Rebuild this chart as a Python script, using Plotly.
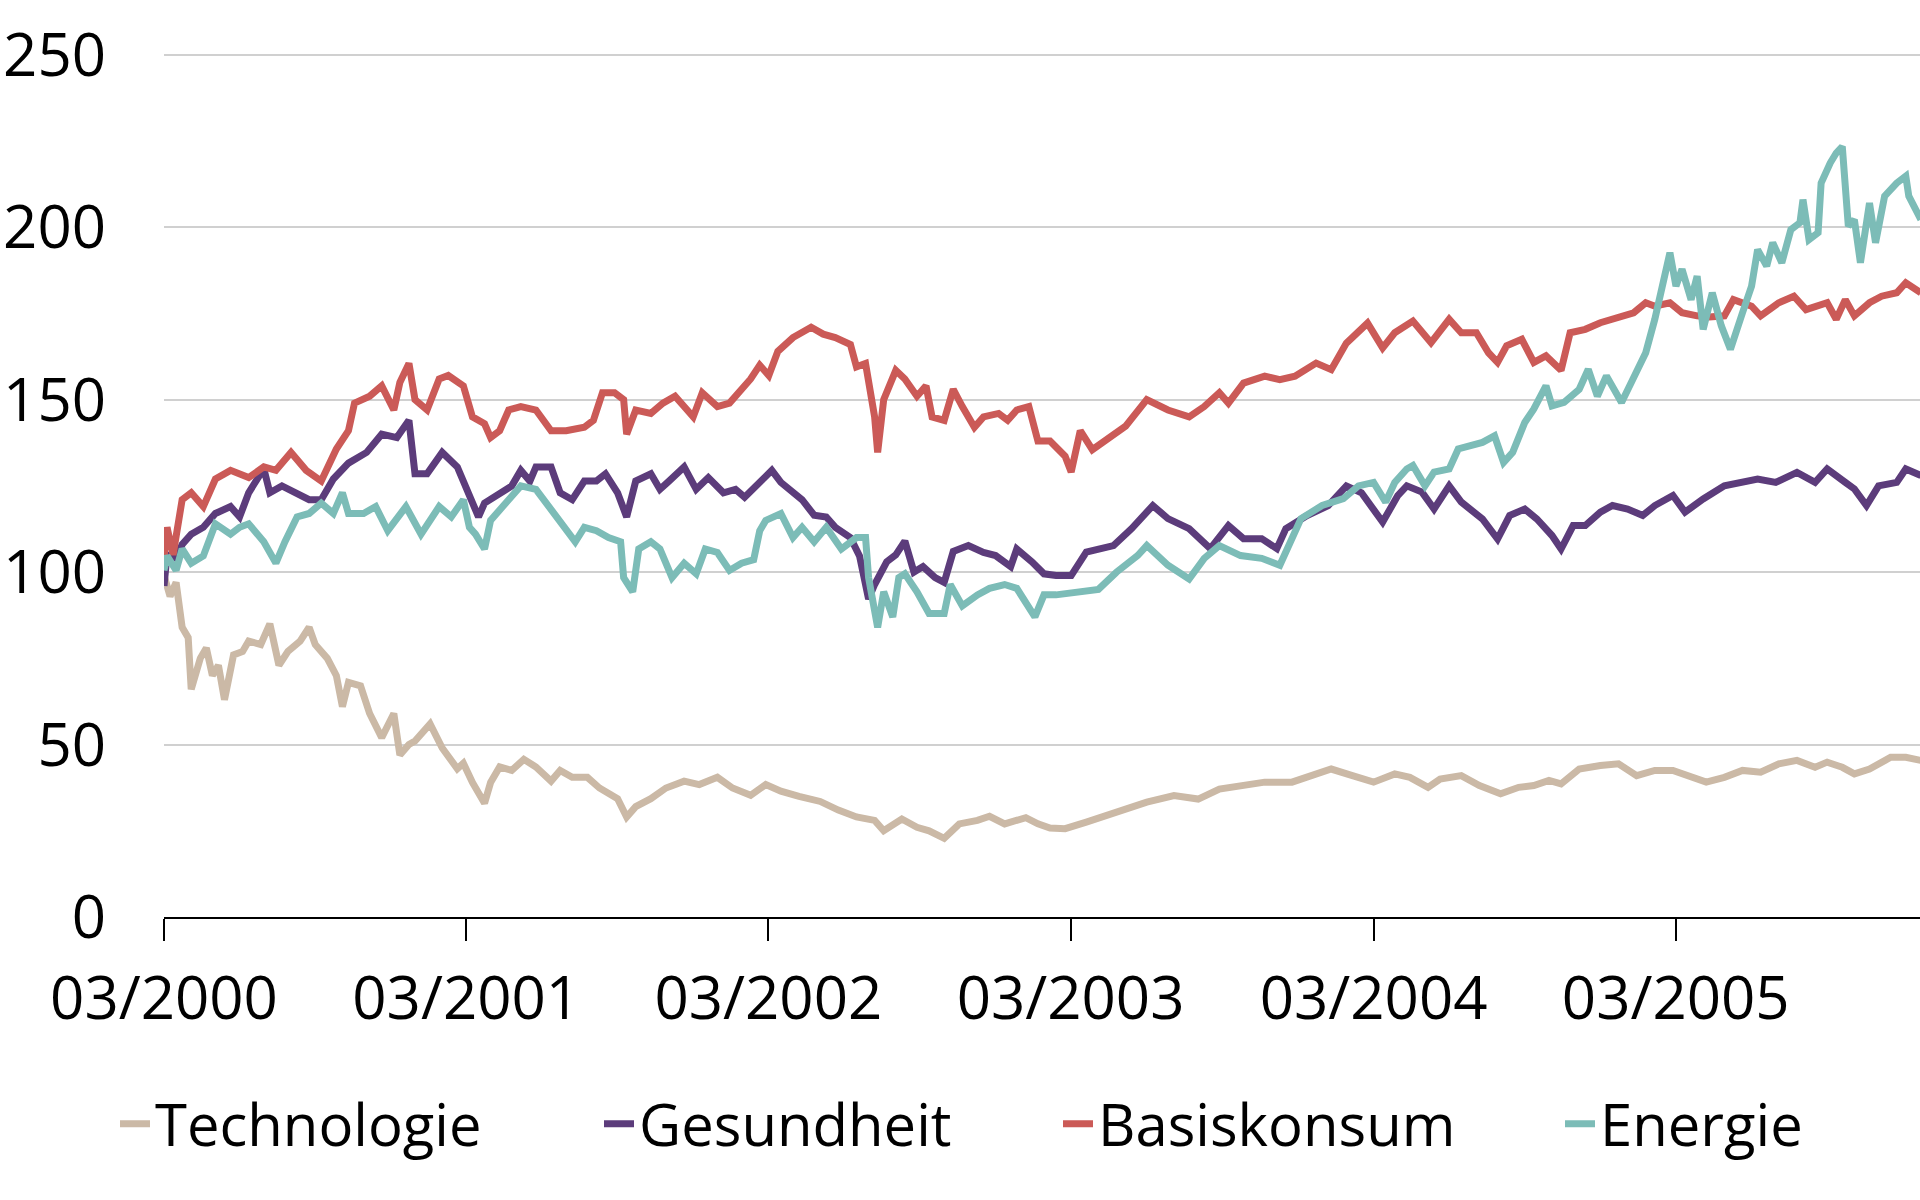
import pandas as pd
import plotly.graph_objects as go

# time in years since 03/2000, index values (03/2000 = 100)
tech_t = [0.00, 0.02, 0.04, 0.06, 0.08, 0.09, 0.12, 0.14, 0.16, 0.18, 0.20, 0.23, 0.26, 0.28,
          0.32, 0.35, 0.38, 0.41, 0.45, 0.48, 0.50, 0.54, 0.57, 0.59, 0.61, 0.65, 0.68, 0.72,
          0.76, 0.78, 0.81, 0.83, 0.88, 0.92, 0.97, 0.99, 1.02, 1.06, 1.08, 1.11, 1.15, 1.19,
          1.23, 1.28, 1.31, 1.35, 1.40, 1.44, 1.50, 1.53, 1.56, 1.61, 1.66, 1.72, 1.77, 1.83,
          1.88, 1.94, 1.99, 2.04, 2.10, 2.17, 2.23, 2.29, 2.35, 2.38, 2.44, 2.49, 2.53, 2.58,
          2.63, 2.69, 2.73, 2.78, 2.85, 2.89, 2.93, 2.98, 3.05, 3.15, 3.25, 3.34, 3.42, 3.49,
          3.56, 3.64, 3.73, 3.79, 3.86, 3.93, 4.00, 4.07, 4.12, 4.18, 4.22, 4.29, 4.35, 4.42,
          4.48, 4.53, 4.58, 4.62, 4.68, 4.75, 4.81, 4.87, 4.93, 4.99, 5.05, 5.10, 5.16, 5.22,
          5.28, 5.34, 5.40, 5.46, 5.50, 5.55, 5.59, 5.64, 5.71, 5.76, 5.81]
tech_v = [99, 93, 97, 84, 81, 66, 75, 78, 70, 73, 63, 76, 77, 80,
          79, 85, 73, 77, 80, 84, 79, 75, 70, 61, 68, 67, 59, 52,
          59, 47, 50, 51, 56, 49, 43, 44.6, 39, 33, 39, 43.5, 42.5, 45.7,
          43.5, 39.4, 42.5, 40.5, 40.5, 37.4, 34.3, 29, 32, 34.3, 37.4, 39.4, 38.4, 40.5,
          37.4, 35.3, 38.4, 36.5, 35, 33.5, 31, 29, 28, 25, 28.4, 26, 25, 22.8,
          27, 28, 29.2, 27, 28.8, 27, 25.8, 25.6, 27.5, 30.4, 33.3, 35.2, 34.2, 37.1,
          38.1, 39.1, 39.1, 41, 42.9, 41, 39.1, 41.5, 40.5, 37.6, 40, 41, 38.1, 35.7,
          37.6, 38.1, 39.6, 38.6, 42.9, 43.9, 44.4, 41, 42.5, 42.5, 40.5, 39.1, 40.5, 42.5,
          42, 44.4, 45.4, 43.4, 44.9, 43.4, 41.5, 42.9, 46.3, 46.3, 45.4]

health_t = [0.00, 0.01, 0.04, 0.06, 0.09, 0.13, 0.17, 0.22, 0.25, 0.28, 0.33, 0.35, 0.39, 0.44,
            0.48, 0.52, 0.56, 0.61, 0.67, 0.72, 0.77, 0.81, 0.83, 0.87, 0.92, 0.97, 1.01, 1.04,
            1.06, 1.11, 1.15, 1.18, 1.21, 1.23, 1.28, 1.31, 1.35, 1.39, 1.43, 1.46, 1.50, 1.53,
            1.56, 1.61, 1.64, 1.67, 1.72, 1.76, 1.80, 1.85, 1.89, 1.92, 1.96, 2.01, 2.04, 2.08,
            2.11, 2.15, 2.19, 2.22, 2.27, 2.30, 2.33, 2.35, 2.39, 2.42, 2.45, 2.48, 2.51, 2.55,
            2.58, 2.61, 2.66, 2.71, 2.75, 2.80, 2.82, 2.87, 2.91, 2.95, 3.00, 3.05, 3.14, 3.20,
            3.27, 3.32, 3.39, 3.46, 3.52, 3.57, 3.63, 3.68, 3.71, 3.78, 3.85, 3.91, 3.96, 4.03,
            4.08, 4.11, 4.16, 4.20, 4.25, 4.29, 4.36, 4.41, 4.45, 4.50, 4.54, 4.59, 4.62, 4.66,
            4.70, 4.75, 4.79, 4.84, 4.89, 4.93, 4.99, 5.03, 5.09, 5.16, 5.22, 5.27, 5.33, 5.40,
            5.46, 5.50, 5.56, 5.59, 5.63, 5.67, 5.73, 5.76, 5.81]
health_v = [96, 105, 104, 108, 111, 113, 117, 119, 116, 123, 130, 123, 125, 123,
            121, 121, 127, 131.6, 134.7, 140, 139, 144, 128.5, 128.5, 134.7, 130.5, 122, 116,
            120, 123, 125, 129.5, 126.4, 130.5, 130.5, 123, 121, 126.4, 126.4, 128.5, 123, 116,
            126.4, 128.5, 124, 126.4, 130.5, 124, 127.4, 123, 124, 121.7, 125, 129.5, 126, 123,
            121, 116.5, 116, 113, 110, 104.7, 92.2, 96.4, 103, 105, 109, 100, 101.6, 98.4,
            97, 106, 107.7, 105.7, 104.8, 101.6, 106.7, 103, 99.5, 99, 99, 105.8, 107.7, 112.6,
            119.3, 115.5, 112.6, 106.8, 113.5, 109.7, 109.7, 106.8, 112.6, 116.4, 119.3, 125, 123, 114.5,
            122.2, 125, 123.2, 118.3, 125, 120.3, 115.4, 109.6, 116.4, 118.3, 115.4, 110.6, 106.7, 113.5,
            113.5, 117.4, 119.3, 118.3, 116.4, 119.3, 122.2, 117.4, 121.2, 125, 126, 127, 126, 128.9,
            126, 129.9, 126, 124.1, 119.3, 125, 126, 129.9, 128]

staples_t = [0.00, 0.01, 0.03, 0.06, 0.09, 0.13, 0.17, 0.22, 0.28, 0.33, 0.37, 0.42, 0.47, 0.52,
             0.57, 0.61, 0.63, 0.68, 0.72, 0.76, 0.78, 0.81, 0.83, 0.87, 0.91, 0.94, 0.99, 1.02,
             1.06, 1.08, 1.11, 1.14, 1.18, 1.23, 1.28, 1.33, 1.39, 1.42, 1.45, 1.49, 1.52, 1.53,
             1.56, 1.61, 1.65, 1.69, 1.72, 1.75, 1.78, 1.83, 1.87, 1.91, 1.94, 1.97, 2.00, 2.03,
             2.08, 2.14, 2.18, 2.22, 2.27, 2.29, 2.32, 2.35, 2.36, 2.38, 2.42, 2.45, 2.49, 2.52,
             2.54, 2.58, 2.61, 2.64, 2.68, 2.71, 2.76, 2.79, 2.82, 2.86, 2.89, 2.93, 2.98, 3.00,
             3.03, 3.07, 3.12, 3.18, 3.25, 3.32, 3.39, 3.44, 3.49, 3.52, 3.57, 3.64, 3.69, 3.74,
             3.81, 3.86, 3.91, 3.98, 4.03, 4.07, 4.13, 4.19, 4.25, 4.29, 4.34, 4.38, 4.41, 4.44,
             4.49, 4.53, 4.57, 4.62, 4.65, 4.70, 4.75, 4.82, 4.86, 4.90, 4.93, 4.98, 5.02, 5.07,
             5.11, 5.16, 5.19, 5.25, 5.28, 5.34, 5.39, 5.43, 5.50, 5.53, 5.56, 5.59, 5.64, 5.68,
             5.73, 5.76, 5.81]
staples_v = [104, 113, 105, 121, 123, 119, 127, 129.5, 127.4, 130.5, 129.5, 134.7, 129.5, 126.4,
             135.7, 141, 149, 151, 154, 147, 155, 160.5, 150, 147, 156, 157, 154, 145,
             143, 139, 141, 147, 148, 147, 141, 141, 142, 144, 152, 152, 150, 140,
             147, 146, 149, 151, 148, 145, 152, 148, 149, 153, 156, 160, 157, 164,
             168, 171, 169, 168, 166, 159.5, 160.5, 145, 134.7, 150, 158.5, 156, 151, 154,
             145, 144, 153, 148, 142, 145, 146, 144, 147, 148, 138, 138, 133.6, 129,
             141, 135.5, 138.4, 142.3, 150, 147, 145, 148, 152, 149, 154.8, 156.8, 155.8, 156.8,
             160.6, 158.7, 166.4, 172.2, 165, 169.4, 172.8, 166.5, 173.3, 169.4, 169.4, 163.6, 160.8, 165.6,
             167.5, 160.8, 162.7, 158.5, 169.4, 170.4, 172.3, 174.3, 175.2, 178.1, 177.1, 178.1, 175.2, 174.3,
             174, 174.3, 179, 177.1, 174.3, 178.1, 180, 176.1, 178.1, 173.3, 179, 174.3, 178.1, 180,
             181, 183.9, 181]

energy_t = [0.00, 0.01, 0.04, 0.06, 0.09, 0.13, 0.17, 0.22, 0.25, 0.28, 0.33, 0.37, 0.40, 0.44,
            0.48, 0.52, 0.56, 0.59, 0.61, 0.66, 0.70, 0.74, 0.80, 0.85, 0.91, 0.95, 0.99, 1.01,
            1.03, 1.06, 1.08, 1.13, 1.18, 1.23, 1.28, 1.32, 1.36, 1.39, 1.43, 1.47, 1.51, 1.52,
            1.55, 1.57, 1.61, 1.64, 1.68, 1.72, 1.76, 1.79, 1.83, 1.87, 1.91, 1.95, 1.97, 1.99,
            2.04, 2.08, 2.11, 2.15, 2.19, 2.24, 2.29, 2.32, 2.33, 2.36, 2.38, 2.41, 2.43, 2.45,
            2.49, 2.53, 2.58, 2.60, 2.64, 2.69, 2.73, 2.78, 2.82, 2.88, 2.91, 2.95, 3.00, 3.09,
            3.15, 3.22, 3.25, 3.32, 3.39, 3.44, 3.49, 3.56, 3.63, 3.69, 3.76, 3.83, 3.90, 3.95,
            4.00, 4.04, 4.07, 4.11, 4.13, 4.17, 4.20, 4.25, 4.28, 4.33, 4.36, 4.40, 4.43, 4.46,
            4.50, 4.53, 4.57, 4.59, 4.63, 4.68, 4.71, 4.74, 4.77, 4.82, 4.86, 4.90, 4.93, 4.97,
            4.98, 5.00, 5.02, 5.05, 5.07, 5.09, 5.12, 5.15, 5.18, 5.22, 5.25, 5.27, 5.30, 5.32,
            5.35, 5.38, 5.41, 5.42, 5.44, 5.47, 5.48, 5.51, 5.53, 5.55, 5.57, 5.59, 5.61, 5.64,
            5.66, 5.69, 5.73, 5.76, 5.77, 5.81]
energy_v = [100.5, 104.7, 100.5, 106.7, 102.6, 104.7, 114, 111, 113, 114, 108.8, 102.6, 108.8, 116,
            117, 120, 117, 123, 117, 117, 119, 112, 119, 111, 119, 116, 121, 113,
            111, 106.7, 115, 120, 125, 124, 118, 113, 108.8, 113, 112, 110, 108.8, 98.4,
            94.3, 106.7, 108.8, 106.7, 98.4, 102.6, 99.5, 106.7, 105.7, 100.5, 102.6, 103.6, 112, 115,
            117, 110, 113, 108.8, 113, 106.7, 110, 110, 98.4, 84, 94.3, 87, 98.4, 99.5,
            94.3, 88, 88, 96.4, 90.2, 93.4, 95.3, 96.4, 95.3, 87, 93.4, 93.4, 94, 95,
            100, 104.8, 107.7, 102, 98, 104, 107.7, 104.8, 104, 102, 115.5, 119.3, 121.3, 125,
            126, 120.3, 126, 129.9, 130.9, 125, 129, 129.9, 135.7, 136.6, 137.6, 139.5, 131.8, 134.7,
            143.4, 147.3, 154, 148.2, 149.2, 153, 158.8, 151, 156.9, 149.2, 155.9, 163.6, 173.3, 189.7,
            192.6, 182.9, 187.8, 179, 185.8, 170.4, 181, 171.4, 164.6, 175.2, 182.9, 193.5, 188.7, 195.5,
            189.7, 199.3, 201.3, 208, 196.4, 198.4, 212.8, 218.6, 221.5, 223.4, 200.3, 202.2, 189.7, 207,
            195.5, 209, 212.8, 214.8, 209, 202.2]

names = ["Technologie", "Gesundheit", "Basiskonsum", "Energie"]
colors = ["#CBB9A6", "#5C3C7B", "#CB5A57", "#7CBCB7"]
tick_dates = ["2000-03-01", "2001-03-01", "2002-03-01", "2003-03-01", "2004-03-01", "2005-03-01"]

start = pd.Timestamp("2000-03-01")


def to_dates(t):
    return [start + pd.Timedelta(days=x * 365.25) for x in t]


series = [(tech_t, tech_v), (health_t, health_v), (staples_t, staples_v), (energy_t, energy_v)]
legend_ids = ["legend", "legend2", "legend3", "legend4"]
legend_x = [115, 599, 1058, 1560]

W, H = 1920, 1200

fig = go.Figure()
for (t, v), name, color, lid in zip(series, names, colors, legend_ids):
    fig.add_trace(go.Scatter(
        x=to_dates(t), y=v, name=name, mode="lines",
        line=dict(color=color, width=7),
        legend=lid
    ))

font = "Open Sans, Noto Sans, sans-serif"
legend_style = dict(
    orientation="h", xref="container", yref="container",
    yanchor="middle", y=1 - 1124 / H,
    font=dict(family=font, size=58, color="black"),
    bgcolor="rgba(0,0,0,0)", borderwidth=0, itemclick=False
)

layout_legends = {}
for lid, px in zip(legend_ids, legend_x):
    layout_legends[lid] = dict(legend_style, x=px / W, xanchor="left")

fig.update_layout(
    width=W, height=H,
    margin=dict(l=164, r=0, t=52, b=283),
    plot_bgcolor="white", paper_bgcolor="white",
    font=dict(family=font, size=60, color="black"),
    showlegend=True,
    **layout_legends
)

fig.update_xaxes(
    range=[start, start + pd.Timedelta(days=5.807 * 365.25)],
    tickvals=tick_dates, tickformat="%m/%Y",
    showgrid=False, zeroline=False, automargin=False,
    showline=True, linecolor="black", linewidth=2,
    ticks="outside", ticklen=22, tickwidth=2, tickcolor="black",
    ticklabelstandoff=6,
    tickfont=dict(family=font, size=60, color="black")
)
fig.update_yaxes(
    range=[0, 250.8], tickvals=[0, 50, 100, 150, 200, 250],
    showgrid=True, gridcolor="#D0D0D0", gridwidth=2,
    zeroline=False, showline=False, ticks="", automargin=False,
    ticklabelstandoff=57,
    tickfont=dict(family=font, size=60, color="black")
)

# drop the default 8px page margin so the 1920x1200 figure fills the window exactly
fig.write_html(
    "out.html",
    config={"displayModeBar": False},
    post_script="document.body.style.margin = '0';"
)
